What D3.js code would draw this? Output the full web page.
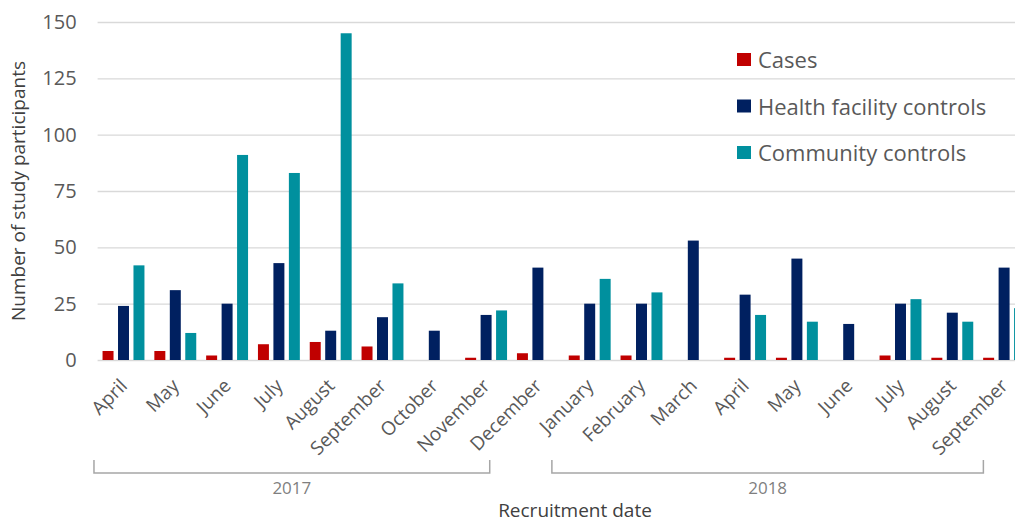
<!DOCTYPE html>
<html>
<head>
    <meta charset="utf-8">
    <style>
        body {
            margin: 0;
            background: #fff;
            font-family: 'Open Sans', 'Noto Sans', sans-serif;
        }

        svg {
            display: block;
        }

        .grid line {
            stroke: #d9d9d9;
            stroke-width: 1.3;
        }

        .grid .domain {
            display: none;
        }

        .y .domain,
        .y .tick line {
            display: none;
        }

        .y .tick text {
            font-size: 20px;
            fill: #595959;
        }

        .x .domain,
        .x .tick line {
            display: none;
        }

        .x .tick text {
            font-size: 19px;
            fill: #595959;
        }
    </style>
</head>

<body>
    <svg width="1015" height="523"></svg>

    <script src="https://d3js.org/d3.v7.min.js"></script>
    <script>
        // data
        let months = ["April", "May", "June", "July", "August", "September", "October", "November", "December",
            "January", "February", "March", "April", "May", "June", "July", "August", "September"];
        let cases = [4, 4, 2, 7, 8, 6, 0, 1, 3, 2, 2, 0, 1, 1, 0, 2, 1, 1];
        let healthControls = [24, 31, 25, 43, 13, 19, 13, 20, 41, 25, 25, 53, 29, 45, 16, 25, 21, 41];
        let communityControls = [42, 12, 91, 83, 145, 34, 0, 22, 0, 36, 30, 0, 20, 17, 0, 27, 17, 23];
        let seriesNames = ["Cases", "Health facility controls", "Community controls"];
        let seriesColors = ["#c00000", "#002060", "#00909e"];
        let yTicks = [0, 25, 50, 75, 100, 125, 150];
        // year brackets, in category units (start, end)
        let years = [
            { label: "2017", from: -0.07, to: 7.57 },
            { label: "2018", from: 8.77, to: 17.1 }
        ];

        let svg = d3.select("svg");

        let plotLeft = 97.6, plotRight = 1030, plotTop = 22, plotBottom = 360;

        let idx = months.map((m, i) => i);

        let x0 = d3.scaleBand()
            .domain(idx)
            .range([plotLeft, plotRight])
            .paddingInner(0)
            .paddingOuter(0);

        let x1 = d3.scaleBand()
            .domain([0, 1, 2])
            .range([0, x0.bandwidth()])
            .paddingInner(0.29)
            .paddingOuter(0.32);

        let y = d3.scaleLinear()
            .domain([0, 150])
            .range([plotBottom, plotTop]);

        // category-unit scale for the year brackets
        let xc = d3.scaleLinear().domain([0, months.length]).range([plotLeft, plotRight]);

        // gridlines
        svg.append("g")
            .attr("class", "grid")
            .attr("transform", `translate(${plotLeft},0)`)
            .call(d3.axisLeft(y).tickValues(yTicks).tickSize(-(plotRight - plotLeft)).tickFormat(""));

        // y axis labels
        svg.append("g")
            .attr("class", "y axis")
            .attr("transform", `translate(${plotLeft},0)`)
            .call(d3.axisLeft(y).tickValues(yTicks).tickSize(0).tickPadding(21))
            .attr("font-family", null)
            .attr("font-size", null);

        let rows = idx.map(i => [cases[i], healthControls[i], communityControls[i]]);

        let groups = svg.append("g")
            .selectAll("g")
            .data(rows)
            .join("g")
            .attr("transform", (d, i) => `translate(${x0(i)},0)`);

        groups.selectAll("rect")
            .data(d => d)
            .join("rect")
            .attr("x", (d, j) => x1(j))
            .attr("width", x1.bandwidth())
            .attr("y", d => y(d))
            .attr("height", d => y(0) - y(d))
            .attr("fill", (d, j) => seriesColors[j]);

        // x axis month labels
        let xAxis = svg.append("g")
            .attr("class", "x axis")
            .attr("transform", `translate(0,${plotBottom})`)
            .call(d3.axisBottom(x0).tickFormat(i => months[i]).tickSize(0))
            .attr("font-family", null)
            .attr("font-size", null);

        xAxis.selectAll(".tick text")
            .attr("text-anchor", "end")
            .attr("dy", 0)
            .attr("y", 0)
            .attr("transform", "translate(5,27) rotate(-45)");

        // year brackets
        let yb = svg.append("g");
        years.forEach(yr => {
            let a = xc(yr.from), b = xc(yr.to);
            yb.append("path")
                .attr("d", `M${a},460V473H${b}V460`)
                .attr("fill", "none")
                .attr("stroke", "#a6a6a6")
                .attr("stroke-width", 1.5);
            yb.append("text")
                .attr("x", (a + b) / 2)
                .attr("y", 494)
                .attr("text-anchor", "middle")
                .style("font-size", "17px")
                .style("fill", "#7f7f7f")
                .text(yr.label);
        });

        // axis titles
        svg.append("text")
            .attr("x", 575)
            .attr("y", 517)
            .attr("text-anchor", "middle")
            .style("font-size", "19px")
            .style("fill", "#404040")
            .text("Recruitment date");

        svg.append("text")
            .attr("transform", "translate(25,191) rotate(-90)")
            .attr("text-anchor", "middle")
            .style("font-size", "19px")
            .style("fill", "#404040")
            .text("Number of study participants");

        // legend
        let legend = svg.append("g")
            .attr("transform", "translate(737,60)");

        let items = legend.selectAll("g")
            .data(seriesNames)
            .join("g")
            .attr("transform", (d, i) => `translate(0,${i * 46.5})`);

        items.append("rect")
            .attr("x", 0)
            .attr("y", -7)
            .attr("width", 14)
            .attr("height", 13)
            .attr("fill", (d, i) => seriesColors[i]);

        items.append("text")
            .attr("x", 21)
            .attr("y", 8)
            .style("font-size", "22px")
            .style("fill", "#595959")
            .text(d => d);
    </script>
</body>
</html>
